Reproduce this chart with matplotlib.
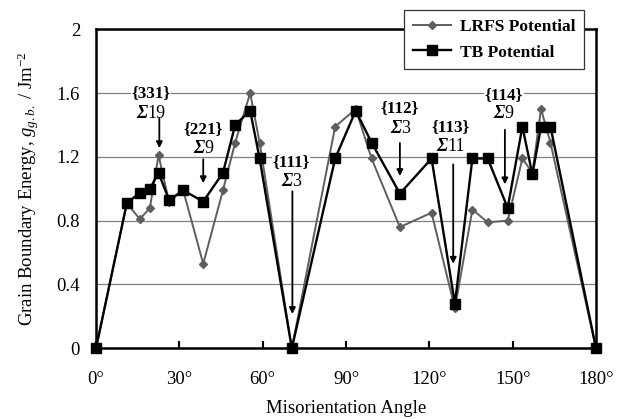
import matplotlib
matplotlib.use('Agg')
import matplotlib.pyplot as plt
from matplotlib.lines import Line2D

plt.rcParams['font.family'] = ['Liberation Serif', 'DejaVu Serif']
plt.rcParams['mathtext.fontset'] = 'custom'
plt.rcParams['mathtext.rm'] = 'Liberation Serif'
plt.rcParams['mathtext.it'] = 'Liberation Serif:italic'
plt.rcParams['mathtext.bf'] = 'Liberation Serif:bold'

# misorientation angles (deg) of the computed boundaries
angle = [0, 11.1, 15.8, 19.4, 22.5, 26.3, 31.4, 38.6, 45.7, 50.1, 55.5, 58.9, 70.5,
         86.1, 93.5, 99.2, 109.4, 120.8, 129.2, 135.5, 141.0, 148.2, 153.5, 157.1,
         160.2, 163.6, 180]
tb = [0, 0.91, 0.975, 1.0, 1.1, 0.93, 0.99, 0.92, 1.1, 1.40, 1.49, 1.19, 0,
      1.19, 1.49, 1.29, 0.97, 1.19, 0.28, 1.19, 1.19, 0.88, 1.39, 1.09,
      1.39, 1.39, 0]
lrfs = [0, 0.91, 0.81, 0.88, 1.21, 0.92, 0.99, 0.53, 0.99, 1.29, 1.60, 1.29, 0,
        1.39, 1.50, 1.19, 0.76, 0.85, 0.25, 0.87, 0.79, 0.80, 1.19, 1.10,
        1.50, 1.29, 0]

# special boundaries: plane, sigma, text x, brace y, sigma y, arrow x, arrow top, arrow tip
planes = ['{331}', '{221}', '{111}', '{112}', '{113}', '{114}']
sigmas = ['19', '9', '3', '3', '11', '9']
text_x = [19.8, 38.5, 70.2, 109.4, 127.6, 146.8]
brace_y = [1.60, 1.375, 1.165, 1.505, 1.39, 1.59]
sigma_y = [1.47, 1.25, 1.045, 1.38, 1.267, 1.474]
arrow_x = [22.8, 38.6, 70.7, 109.4, 128.6, 147.2]
arrow_top = [1.44, 1.185, 0.985, 1.287, 1.153, 1.37]
arrow_tip = [1.255, 1.035, 0.215, 1.08, 0.53, 1.028]

xticks = [0, 30, 60, 90, 120, 150, 180]
yticks = [0, 0.4, 0.8, 1.2, 1.6, 2.0]
ylabels = ['0', '0.4', '0.8', '1.2', '1.6', '2']

fig = plt.figure(figsize=(6.29, 4.19), dpi=100)
ax = fig.add_axes([96 / 629, 70.7 / 419, 500 / 629, 319 / 419])

ax.set_xlim(0, 180)
ax.set_ylim(0, 2)
ax.set_yticks(yticks)
ax.set_yticklabels(ylabels)
ax.set_xticks(xticks)
ax.set_xticklabels([f'{t}°' for t in xticks])
ax.yaxis.grid(True, color='#808080', lw=0.9, zorder=0)
ax.set_axisbelow(True)

for s in ax.spines.values():
    s.set_linewidth(1.8)
    s.set_color('black')

ax.tick_params(axis='x', direction='in', length=5, width=1.5, pad=16, labelsize=13.5)
ax.tick_params(axis='y', length=0, pad=11.5, labelsize=13.5)

ax.plot(angle, lrfs, color='#5e5e5e', lw=1.4, marker='D', ms=4.3,
        clip_on=False, zorder=3)
ax.plot(angle, tb, color='black', lw=1.7, marker='s', ms=7,
        clip_on=False, zorder=4)

box = dict(facecolor='white', edgecolor='none', pad=0.5)
sig_w = 8.0   # width of the italic sigma, points
dig_w = 6.5   # width of one digit, points
for i in range(len(planes)):
    ax.text(text_x[i], brace_y[i], planes[i], ha='center', va='center',
            fontsize=12.3, fontweight='bold', bbox=box, zorder=6)
    # italic sigma followed by upright number, centred as a pair
    total = sig_w + dig_w * len(sigmas[i])
    split = sig_w - total / 2
    ax.annotate('Σ', xy=(text_x[i], sigma_y[i]), xytext=(split, 0),
                textcoords='offset points', ha='right', va='center',
                fontsize=13, fontstyle='italic', fontweight='bold', zorder=6)
    ax.annotate(sigmas[i], xy=(text_x[i], sigma_y[i]), xytext=(split, 0),
                textcoords='offset points', ha='left', va='center',
                fontsize=13, zorder=6)
    ax.annotate('', xy=(arrow_x[i], arrow_tip[i]), xytext=(arrow_x[i], arrow_top[i]),
                arrowprops=dict(arrowstyle='-|>', color='black', lw=1.3,
                                mutation_scale=9, shrinkA=0, shrinkB=0),
                zorder=5)

ax.set_xlabel('Misorientation Angle', fontsize=13.5, labelpad=9)
ax.set_ylabel(r'Grain Boundary Energy, $\mathit{g}_{\mathit{g.b.}}$ / Jm$^{-2}$',
              fontsize=13.5, labelpad=11)

handles = [
    Line2D([], [], color='#5e5e5e', lw=1.4, marker='D', ms=4.3),
    Line2D([], [], color='black', lw=1.7, marker='s', ms=7),
]
leg = ax.legend(handles, ['LRFS Potential', 'TB Potential'],
                loc='upper left', bbox_to_anchor=(404 / 629, 1 - 10 / 419),
                bbox_transform=fig.transFigure, borderaxespad=0,
                prop={'family': 'Liberation Serif', 'weight': 'bold', 'size': 12.5},
                frameon=True, fancybox=False, framealpha=1, edgecolor='#333333',
                borderpad=0.5, labelspacing=0.55, handlelength=2.2,
                handletextpad=0.5)
leg.get_frame().set_linewidth(0.9)
leg.set_zorder(10)

fig.savefig('out.png', dpi=100)
